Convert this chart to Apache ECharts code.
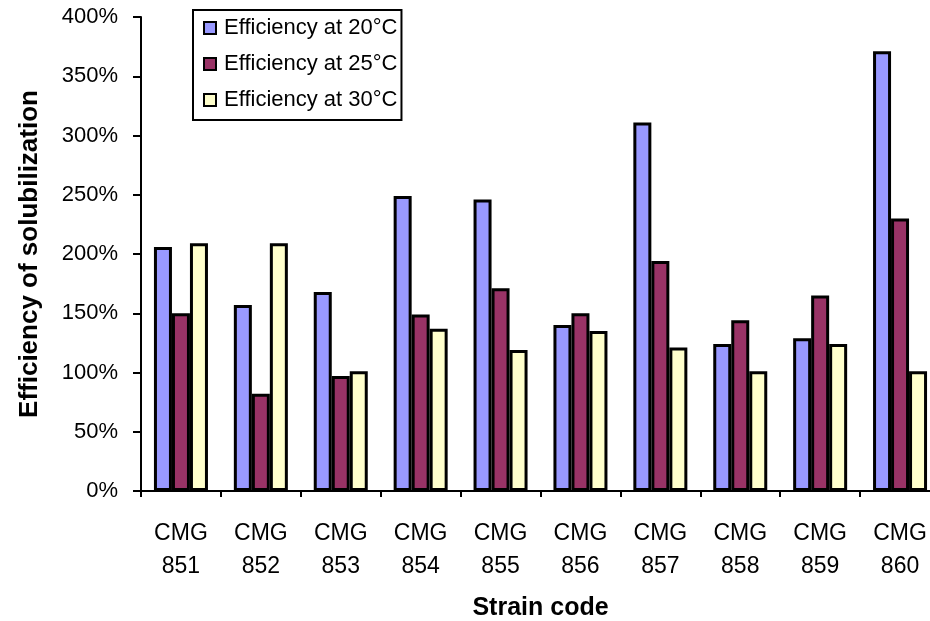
<!DOCTYPE html>
<html>
<head>
<meta charset="utf-8">
<script src="https://cdn.jsdelivr.net/npm/echarts@6/dist/echarts.min.js"></script>
<style>
html,body{margin:0;padding:0;background:#fff;}
#c{width:930px;height:621px;}
</style>
</head>
<body>
<div id="c"></div>
<script>
const categories = ['CMG\n851','CMG\n852','CMG\n853','CMG\n854','CMG\n855','CMG\n856','CMG\n857','CMG\n858','CMG\n859','CMG\n860'];
const seriesNames = ['Efficiency at 20°C','Efficiency at 25°C','Efficiency at 30°C'];
const eff20 = [206, 157, 168, 249, 246, 140, 311, 124, 129, 371];
const eff25 = [150, 82, 97, 149, 171, 150, 194, 144, 165, 230];
const eff30 = [209, 209, 101, 137, 119, 135, 121, 101, 124, 101];
const yTicks = {min: 0, max: 400, interval: 50};

const colors = ['#9999FF', '#993366', '#FFFFCC'];
const font = 'Liberation Sans, Arial, sans-serif';
const data = [eff20, eff25, eff30];

const chart = echarts.init(document.getElementById('c'), null, {renderer: 'canvas'});
chart.setOption({
  backgroundColor: '#ffffff',
  animation: false,
  grid: {left: 141, top: 17, right: -10, bottom: 130, containLabel: false, outerBoundsMode: 'none'},
  legend: {
    orient: 'vertical',
    left: 193, top: 10,
    backgroundColor: '#ffffff',
    borderColor: '#000', borderWidth: 2,
    padding: [6, 4, 8, 10],
    itemWidth: 12, itemHeight: 12, itemGap: 12,
    icon: 'rect',
    textStyle: {fontFamily: font, fontSize: 22, color: '#000', lineHeight: 24, padding: [0, 0, 0, 3]},
    data: seriesNames
  },
  xAxis: {
    type: 'category',
    data: categories,
    name: 'Strain code',
    nameLocation: 'middle',
    nameGap: 105,
    nameTextStyle: {fontFamily: font, fontSize: 25, fontWeight: 'bold', color: '#000'},
    axisLine: {lineStyle: {color: '#000', width: 2}},
    axisTick: {show: true, length: 6, lineStyle: {color: '#000', width: 2}},
    axisLabel: {fontFamily: font, fontSize: 23, color: '#000', lineHeight: 33, margin: 26, interval: 0},
    splitLine: {show: false}
  },
  yAxis: {
    type: 'value',
    min: yTicks.min, max: yTicks.max, interval: yTicks.interval,
    name: 'Efficiency of solubilization',
    nameLocation: 'middle',
    nameRotate: 90,
    nameGap: 98,
    nameTextStyle: {fontFamily: font, fontSize: 26, fontWeight: 'bold', color: '#000'},
    axisLine: {show: true, lineStyle: {color: '#000', width: 2}},
    axisTick: {show: true, length: 8, lineStyle: {color: '#000', width: 2}},
    axisLabel: {fontFamily: font, fontSize: 22, color: '#000', margin: 23, formatter: '{value}%'},
    splitLine: {show: false}
  },
  series: seriesNames.map((n, i) => ({
    name: n,
    type: 'bar',
    data: data[i],
    barWidth: 18,
    barGap: '0%',
    itemStyle: {color: colors[i], borderColor: '#000', borderWidth: 3}
  }))
});
</script>
</body>
</html>
